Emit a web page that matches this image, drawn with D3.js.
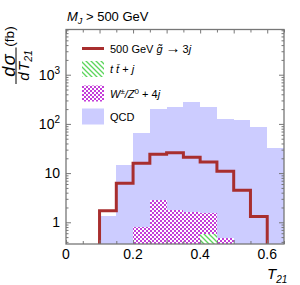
<!DOCTYPE html>
<html>
<head>
<meta charset="utf-8">
<script src="https://cdn.jsdelivr.net/npm/d3@7"></script>
<style>
  body { margin: 0; background: #fff; }
  text { font-family: "Liberation Sans", Arial, sans-serif; fill: #000; }
</style>
</head>
<body>
<svg id="chart" width="300" height="285"></svg>
<script>
// bin edges of T21 histogram
var binEdges = [0.10, 0.15, 0.20, 0.25, 0.30, 0.35, 0.40, 0.45, 0.50, 0.55, 0.60, 0.65];
// dsigma/dT21 (fb) per bin
var qcd    = [1.34, 14.6, 66, 198, 224, 279, 224, 124, 120, 88.5, 33];
var signal = [1.72, 6.2, 15.8, 24.1, 26, 20.9, 16.8, 10.9, 4.5, 1.31, 0];
var wz     = [0, 0, 0.79, 2.84, 1.78, 1.62, 1.52, 0.49, 0, 0, 0];
var ttbar  = [0, 0, 0, 0, 0, 0, 0.57, 0, 0, 0, 0];

var xTicks = [0, 0.2, 0.4, 0.6];
var yTicks = [1, 10, 100, 1000];

var svg = d3.select("#chart");
var mLeft = 66, mRight = 284, mTop = 29.5, mBottom = 244;

var x = d3.scaleLinear().domain([0, 0.65]).range([mLeft, mRight]);
var y = d3.scaleLog().domain([0.362, 8300]).range([mBottom, mTop]);

var defs = svg.append("defs");
defs.append("clipPath").attr("id", "clip")
  .append("rect").attr("x", mLeft).attr("y", mTop).attr("width", mRight - mLeft).attr("height", mBottom - mTop);

// checker for W/Z
var chk = defs.append("pattern").attr("id", "checker")
  .attr("patternUnits", "userSpaceOnUse").attr("width", 4).attr("height", 4);
chk.append("rect").attr("width", 4).attr("height", 4).attr("fill", "#fff");
chk.append("rect").attr("width", 2).attr("height", 2).attr("fill", "#c43dd9");
chk.append("rect").attr("x", 2).attr("y", 2).attr("width", 2).attr("height", 2).attr("fill", "#c43dd9");

// hatch for ttbar
var hatch = defs.append("pattern").attr("id", "hatch")
  .attr("patternUnits", "userSpaceOnUse").attr("width", 5).attr("height", 5);
hatch.append("rect").attr("width", 5).attr("height", 5).attr("fill", "#fff");
hatch.append("path").attr("d", "M0,0L5,5M-1,4L1,6M4,-1L6,1")
  .attr("stroke", "#5cd65c").attr("stroke-width", 1.3);

var plot = svg.append("g").attr("clip-path", "url(#clip)");

function bars(vals, fill) {
  plot.append("g").selectAll("rect")
    .data(vals.map(function (v, i) { return { v: v, x0: binEdges[i], x1: binEdges[i + 1] }; })
      .filter(function (d) { return d.v > 0; }))
    .enter().append("rect")
    .attr("x", function (d) { return x(d.x0); })
    .attr("width", function (d) { return x(d.x1) - x(d.x0); })
    .attr("y", function (d) { return y(d.v); })
    .attr("height", function (d) { return mBottom - y(d.v); })
    .attr("fill", fill)
    .attr("shape-rendering", "crispEdges");
}

bars(qcd, "#ccccff");
bars(wz, "url(#checker)");
bars(ttbar, "url(#hatch)");

// signal step line
var pts = [];
var ymin = y.domain()[0];
var sigBins = signal.map(function (v, i) { return { v: v, x0: binEdges[i], x1: binEdges[i + 1] }; })
  .filter(function (d) { return d.v > 0; });
pts.push([sigBins[0].x0, ymin]);
sigBins.forEach(function (d) { pts.push([d.x0, d.v]); pts.push([d.x1, d.v]); });
pts.push([sigBins[sigBins.length - 1].x1, ymin]);

plot.append("path")
  .attr("d", d3.line().x(function (d) { return x(d[0]); }).y(function (d) { return y(d[1]); })(pts))
  .attr("fill", "none")
  .attr("stroke", "#a82e2e")
  .attr("stroke-width", 3)
  .attr("stroke-linejoin", "miter");

// axes / frame
var frameColor = "#777";
var minorX = d3.range(0, 0.651, 0.05).filter(function (v) { return Math.abs(v * 10 - Math.round(v * 10)) > 1e-6; });
var majorX = d3.range(0, 0.651, 0.1);
var minorY = [];
[0.1, 1, 10, 100, 1000].forEach(function (d) {
  for (var k = 2; k <= 9; k++) {
    var v = d * k;
    if (v >= 0.362 && v <= 8300) minorY.push(v);
  }
});

function styleAxis(g) {
  g.select(".domain").remove();
  g.selectAll("line").attr("stroke", frameColor).attr("stroke-width", 1);
  g.selectAll("text").remove();
}

svg.append("g").attr("transform", "translate(0," + mBottom + ")")
  .call(d3.axisBottom(x).tickValues(majorX).tickSize(-4)).call(styleAxis);
svg.append("g").attr("transform", "translate(0," + mBottom + ")")
  .call(d3.axisBottom(x).tickValues(minorX).tickSize(-3)).call(styleAxis);
svg.append("g").attr("transform", "translate(0," + mTop + ")")
  .call(d3.axisTop(x).tickValues(majorX).tickSize(-4)).call(styleAxis);
svg.append("g").attr("transform", "translate(0," + mTop + ")")
  .call(d3.axisTop(x).tickValues(minorX).tickSize(-3)).call(styleAxis);
svg.append("g").attr("transform", "translate(" + mLeft + ",0)")
  .call(d3.axisLeft(y).tickValues(yTicks).tickSize(-5)).call(styleAxis);
svg.append("g").attr("transform", "translate(" + mLeft + ",0)")
  .call(d3.axisLeft(y).tickValues(minorY).tickSize(-2.5)).call(styleAxis);
svg.append("g").attr("transform", "translate(" + mRight + ",0)")
  .call(d3.axisRight(y).tickValues(yTicks).tickSize(-5)).call(styleAxis);
svg.append("g").attr("transform", "translate(" + mRight + ",0)")
  .call(d3.axisRight(y).tickValues(minorY).tickSize(-2.5)).call(styleAxis);

svg.append("rect")
  .attr("x", mLeft).attr("y", mTop).attr("width", mRight - mLeft).attr("height", mBottom - mTop)
  .attr("fill", "none").attr("stroke", frameColor).attr("stroke-width", 1.3);

// tick labels
svg.append("g").selectAll("text").data(xTicks).enter().append("text")
  .attr("x", function (d) { return x(d); })
  .attr("y", 258.5)
  .attr("text-anchor", "middle")
  .attr("font-size", 14)
  .text(function (d) { return d3.format("")(d); });

var yl = svg.append("g").selectAll("text").data(yTicks).enter().append("text")
  .attr("x", 60)
  .attr("y", function (d) { return y(d) + 5; })
  .attr("text-anchor", "end")
  .attr("font-size", 14);
yl.each(function (d) {
  var t = d3.select(this);
  var e = Math.round(Math.log10(d));
  if (e <= 1) { t.text(String(d)); return; }
  t.append("tspan").text("10");
  t.append("tspan").attr("font-size", 10).attr("dy", -6).text(String(e));
});

// axis titles
var xt = svg.append("text").attr("x", 267).attr("y", 279).attr("font-size", 15);
xt.append("tspan").attr("font-style", "italic").text("T");
xt.append("tspan").attr("font-size", 10).attr("dy", 4).attr("font-style", "italic").text("21");

var ylab = svg.append("g").attr("transform", "rotate(-90)");
var num = ylab.append("text").attr("x", -65.5).attr("y", 14.5).attr("text-anchor", "middle")
  .attr("font-size", 18).attr("font-style", "italic");
num.append("tspan").text("d");
num.append("tspan").attr("dx", 1.5).text("σ");
ylab.append("line").attr("x1", -84).attr("x2", -47.5).attr("y1", 16).attr("y2", 16)
  .attr("stroke", "#000").attr("stroke-width", 1);
var den = ylab.append("text").attr("x", -65.5).attr("y", 28.5).attr("text-anchor", "middle")
  .attr("font-size", 15).attr("font-style", "italic");
den.append("tspan").text("d");
den.append("tspan").attr("dx", 1.5).text("T");
den.append("tspan").attr("font-size", 10.5).attr("dy", 3).text("21");
ylab.append("text").attr("x", -36.5).attr("y", 14).attr("text-anchor", "middle")
  .attr("font-size", 13.5).text("(fb)");

// title
var title = svg.append("text").attr("x", 67).attr("y", 21).attr("font-size", 13);
title.append("tspan").attr("font-style", "italic").text("M");
title.append("tspan").attr("font-style", "italic").attr("font-size", 9).attr("dy", 3).text("J");
title.append("tspan").attr("dy", -3).text(" > 500 GeV");

// legend
var lg = svg.append("g");
lg.append("line").attr("x1", 82).attr("x2", 104).attr("y1", 48.5).attr("y2", 48.5)
  .attr("stroke", "#a82e2e").attr("stroke-width", 3);
lg.append("rect").attr("x", 82).attr("y", 61).attr("width", 22).attr("height", 16).attr("fill", "url(#hatch)");
lg.append("rect").attr("x", 82).attr("y", 85.5).attr("width", 22).attr("height", 16).attr("fill", "url(#checker)");
lg.append("rect").attr("x", 82).attr("y", 108.5).attr("width", 22).attr("height", 16).attr("fill", "#ccccff");

var t1 = lg.append("text").attr("x", 110).attr("y", 52.5).attr("font-size", 11);
t1.append("tspan").text("500 GeV ");
t1.append("tspan").attr("font-style", "italic").text("g\u0303");
t1.append("tspan").attr("dx", 3).attr("font-size", 15).attr("dy", 0.5).text("\u2192");
t1.append("tspan").attr("dx", 2).attr("dy", -0.5).text("3");
t1.append("tspan").attr("font-style", "italic").text("j");

var t2 = lg.append("text").attr("x", 110).attr("y", 73).attr("font-size", 11);
t2.append("tspan").attr("font-style", "italic").text("t t\u0304");
t2.append("tspan").text(" + ");
t2.append("tspan").attr("font-style", "italic").text("j");

var t3 = lg.append("text").attr("x", 110).attr("y", 98).attr("font-size", 11);
t3.append("tspan").attr("font-style", "italic").text("W");
t3.append("tspan").attr("font-size", 8).attr("dy", -4).text("\u00b1");
t3.append("tspan").attr("dy", 4).attr("font-style", "italic").text("/Z");
t3.append("tspan").attr("font-size", 8).attr("dy", -4).text("0");
t3.append("tspan").attr("dy", 4).text(" + 4");
t3.append("tspan").attr("font-style", "italic").text("j");

lg.append("text").attr("x", 110).attr("y", 120.5).attr("font-size", 11).text("QCD");
</script>
</body>
</html>
